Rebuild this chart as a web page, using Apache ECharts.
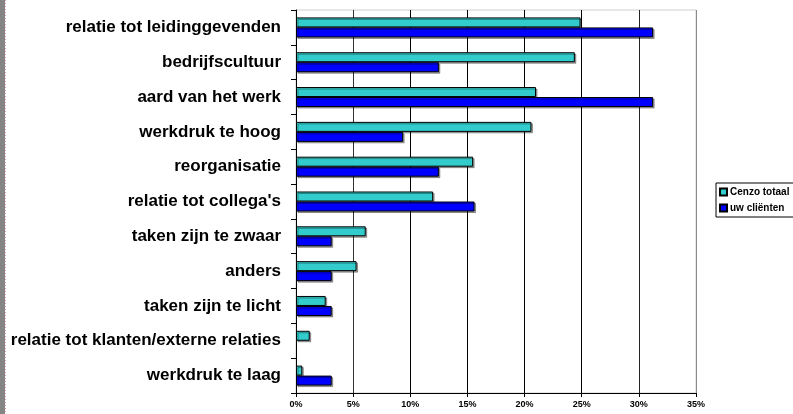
<!DOCTYPE html>
<html>
<head>
<meta charset="utf-8">
<script src="https://cdn.jsdelivr.net/npm/echarts@6/dist/echarts.min.js"></script>
<style>html,body{margin:0;padding:0;background:#fff}#c{width:793px;height:414px}</style>
</head>
<body>
<div id="c"></div>
<script>
const categories = ["relatie tot leidinggevenden","bedrijfscultuur","aard van het werk","werkdruk te hoog","reorganisatie","relatie tot collega's","taken zijn te zwaar","anders","taken zijn te licht","relatie tot klanten/externe relaties","werkdruk te laag"];
const seriesNames = ["Cenzo totaal","uw cliënten"];
const cenzoTotaal = [24.9, 24.4, 21.0, 20.6, 15.5, 12.0, 6.1, 5.3, 2.6, 1.2, 0.55];
const uwClienten = [31.25, 12.5, 31.25, 9.375, 12.5, 15.625, 3.125, 3.125, 3.125, 0, 3.125];
const xTicks = [0, 5, 10, 15, 20, 25, 30, 35];

const chart = echarts.init(document.getElementById('c'), null, {renderer: 'canvas'});
const font = '"Liberation Sans", Arial, sans-serif';
const barStyle = (color) => ({
  color: color, borderColor: '#000', borderWidth: 1,
  shadowColor: 'rgba(0,0,0,0.35)', shadowOffsetX: 1.5, shadowOffsetY: 1.5, shadowBlur: 0
});
// zero values are not drawn (no border stub)
const toBars = (arr) => arr.map(v => v === 0 ? '-' : v);
chart.setOption({
  animation: false,
  backgroundColor: '#fff',
  graphic: [
    {type: 'rect', shape: {x: 0, y: 0, width: 5, height: 414}, style: {fill: '#858585'}, z: 10},
    {type: 'line', shape: {x1: 5.5, y1: 0, x2: 5.5, y2: 414}, style: {stroke: '#f0a0a8', lineWidth: 1, lineDash: [1, 2]}, z: 10}
  ],
  grid: {left: 296, right: 97, top: 10, bottom: 21, show: true, borderColor: '#cfcfcf', borderWidth: 1, containLabel: false},
  legend: {
    data: seriesNames, orient: 'vertical', left: 716, top: 183,
    itemWidth: 7, itemHeight: 7, itemGap: 6, padding: [4, 20, 4, 3],
    borderColor: '#000', borderWidth: 1, backgroundColor: '#fff',
    textStyle: {fontFamily: font, fontWeight: 'bold', fontSize: 10, color: '#000', padding: [0, 0, 0, -2]},
    icon: 'rect'
  },
  xAxis: {
    type: 'value', min: 0, max: 35, interval: 5,
    axisLine: {show: true, lineStyle: {color: '#000', width: 1}},
    axisTick: {show: true, length: 4, lineStyle: {color: '#000'}},
    axisLabel: {fontFamily: font, fontWeight: 'bold', fontSize: 9, color: '#000', margin: 7,
      formatter: (v) => xTicks.includes(v) ? v + '%' : ''},
    splitLine: {show: true, lineStyle: {color: ['#000', '#333', '#000', '#000', '#000', '#000', '#222', '#8a8a8a'], width: 1}}
  },
  yAxis: {
    type: 'category', data: categories, inverse: true,
    axisLine: {show: true, lineStyle: {color: '#000', width: 1}},
    axisTick: {show: true, length: 5, lineStyle: {color: '#000'}},
    axisLabel: {fontFamily: font, fontWeight: 'bold', fontSize: 17, color: '#000', margin: 15},
    splitLine: {show: false}
  },
  series: [
    {name: seriesNames[0], type: 'bar', data: toBars(cenzoTotaal), barWidth: 10, barGap: '0%', itemStyle: barStyle('#33CCCC')},
    {name: seriesNames[1], type: 'bar', data: toBars(uwClienten), barWidth: 10, barGap: '0%', itemStyle: barStyle('#0000FF')}
  ]
});
</script>
</body>
</html>
